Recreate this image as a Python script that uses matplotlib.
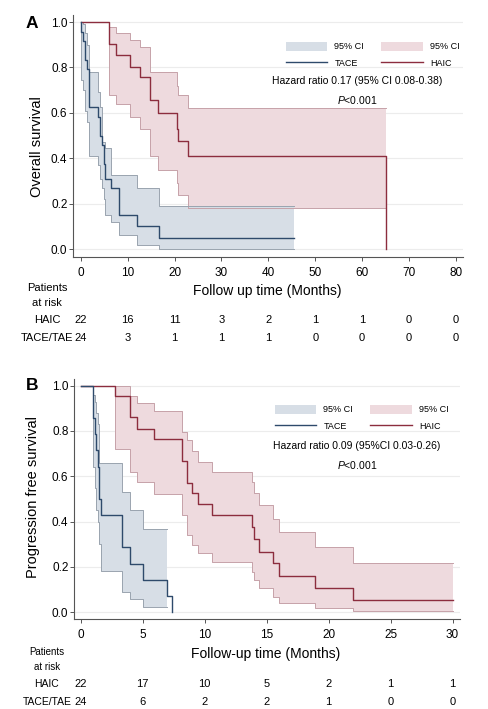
import matplotlib
matplotlib.use('Agg')
import matplotlib.pyplot as plt
import matplotlib.transforms as mtransforms
from matplotlib.patches import Patch
from matplotlib.lines import Line2D
import numpy as np

plt.rcParams['font.family'] = ['Liberation Sans', 'DejaVu Sans']
plt.rcParams['mathtext.fontset'] = 'custom'
plt.rcParams['mathtext.rm'] = 'Liberation Sans'
plt.rcParams['mathtext.it'] = 'Liberation Sans:italic'

# ---- datos ----
# A: overall survival, TACE
os_tace_t = [0, 0.1, 0.45, 1.0, 1.4, 1.75, 3.75, 4.1, 4.6, 4.95, 5.2, 6.5, 8.1, 11.9, 16.6, 45.5]
os_tace_s = [1.0, 0.958, 0.917, 0.833, 0.792, 0.625, 0.583, 0.50, 0.458, 0.375, 0.31, 0.27, 0.15, 0.10, 0.05, 0.05]
os_tace_lo = [1.0, 0.745, 0.70, 0.61, 0.56, 0.41, 0.37, 0.31, 0.27, 0.22, 0.15, 0.12, 0.062, 0.02, 0.0, 0.0]
os_tace_hi = [1.0, 1.0, 0.99, 0.95, 0.90, 0.78, 0.69, 0.627, 0.473, 0.473, 0.444, 0.326, 0.326, 0.267, 0.19, 0.19]
# A: overall survival, HAIC
os_haic_t = [0, 6.0, 7.6, 10.5, 12.6, 14.8, 16.5, 20.5, 20.8, 22.8, 65.0]
os_haic_s = [1.0, 0.902, 0.855, 0.803, 0.759, 0.656, 0.598, 0.53, 0.476, 0.411, 0.411]
os_haic_lo = [1.0, 0.68, 0.64, 0.58, 0.53, 0.41, 0.35, 0.29, 0.24, 0.18, 0.18]
os_haic_hi = [1.0, 0.976, 0.95, 0.92, 0.89, 0.78, 0.78, 0.72, 0.68, 0.62, 0.62]

# B: progression free survival, TACE (la banda termina antes que la curva)
pfs_tace_t = [0, 1.02, 1.15, 1.25, 1.38, 1.5, 1.62, 3.35, 4.0, 5.05, 7.0, 7.4]
pfs_tace_s = [1.0, 0.857, 0.786, 0.714, 0.643, 0.50, 0.429, 0.286, 0.214, 0.143, 0.071, 0.0]
pfs_tace_lo = [1.0, 0.64, 0.55, 0.45, 0.40, 0.30, 0.18, 0.09, 0.057, 0.022, 0.022]
pfs_tace_hi = [1.0, 0.96, 0.93, 0.88, 0.83, 0.66, 0.66, 0.532, 0.451, 0.367, 0.367]
# B: progression free survival, HAIC
pfs_haic_t = [0, 2.74, 3.98, 4.52, 5.91, 8.14, 8.6, 8.95, 9.49, 10.6, 13.8, 13.98, 14.4, 15.48, 16.0, 18.9, 22.0, 30.05]
pfs_haic_s = [1.0, 0.954, 0.86, 0.81, 0.763, 0.669, 0.572, 0.525, 0.476, 0.43, 0.375, 0.322, 0.267, 0.216, 0.16, 0.106, 0.054, 0.054]
pfs_haic_lo = [1.0, 0.72, 0.62, 0.574, 0.52, 0.43, 0.34, 0.297, 0.26, 0.223, 0.179, 0.143, 0.106, 0.069, 0.04, 0.018, 0.007, 0.007]
pfs_haic_hi = [1.0, 1.0, 0.954, 0.925, 0.89, 0.797, 0.76, 0.71, 0.665, 0.62, 0.576, 0.525, 0.473, 0.41, 0.356, 0.29, 0.216, 0.216]

# pacientes en riesgo
os_ticks = [0, 10, 20, 30, 40, 50, 60, 70, 80]
os_risk_haic = [22, 16, 11, 3, 2, 1, 1, 0, 0]
os_risk_tace = [24, 3, 1, 1, 1, 0, 0, 0, 0]
pfs_ticks = [0, 5, 10, 15, 20, 25, 30]
pfs_risk_haic = [22, 17, 10, 5, 2, 1, 1]
pfs_risk_tace = [24, 6, 2, 2, 1, 0, 0]

# colores
c_tace = '#2E4A6B'
f_tace = '#D7DEE6'
e_tace = '#9AA4AF'
c_haic = '#8C2D3E'
f_haic = '#EEDADE'
e_haic = '#C6A2A9'

W, H = 489, 709


def fx(px):
    return px / W


def fy(py):
    return 1 - py / H


def km(ax, t, s, lo, hi, color, fill, edge, drop=False):
    n = len(lo)
    tb = np.array(t[:n], dtype=float)
    ax.fill_between(tb, lo, hi, step='post', facecolor=fill, edgecolor='none', zorder=1)
    ax.plot(tb, lo, drawstyle='steps-post', color=edge, lw=0.7, zorder=2)
    ax.plot(tb, hi, drawstyle='steps-post', color=edge, lw=0.7, zorder=2)
    tl = np.array(t, dtype=float)
    sl = np.array(s, dtype=float)
    if drop:
        tl = np.append(tl, tl[-1])
        sl = np.append(sl, 0.0)
    ax.plot(tl, sl, drawstyle='steps-post', color=color, lw=1.0, zorder=3)


def style(ax, xticks):
    for sp in ['top', 'right']:
        ax.spines[sp].set_visible(False)
    for sp in ['left', 'bottom']:
        ax.spines[sp].set_color('#555555')
        ax.spines[sp].set_linewidth(0.8)
    ax.set_yticks(np.arange(0, 1.01, 0.2))
    ax.set_yticklabels(['%.1f' % v for v in np.arange(0, 1.01, 0.2)])
    ax.set_xticks(xticks)
    ax.tick_params(axis='y', length=3, width=0.7, color='#555555', labelsize=8.5, pad=1)
    ax.tick_params(axis='x', length=3, width=0.7, color='#555555', labelsize=8.5, pad=4)
    ax.yaxis.grid(True, color='#ECECEC', lw=0.8, zorder=0)
    ax.set_axisbelow(True)


def legend(ax, px, py):
    handles = [Patch(facecolor=f_tace, edgecolor='none'), Line2D([], [], color=c_tace, lw=1.0),
               Patch(facecolor=f_haic, edgecolor='none'), Line2D([], [], color=c_haic, lw=1.0)]
    labels = ['95% CI', 'TACE', '95% CI', 'HAIC']
    ax.legend(handles, labels, ncol=2, fontsize=6.5, frameon=False, loc='upper left',
              bbox_to_anchor=(fx(px), fy(py)), bbox_transform=fig.transFigure, borderpad=0,
              handlelength=4.6, handleheight=1.3, handletextpad=0.8, columnspacing=1.9,
              labelspacing=0.75)


def risk(ax, ticks, haic, tace, py0, size_lab, size_pat):
    tr = mtransforms.blended_transform_factory(ax.transData, fig.transFigure)
    fig.text(fx(47), fy(py0), 'Patients', ha='center', va='center', fontsize=size_pat)
    fig.text(fx(47), fy(py0 + 15), 'at risk', ha='center', va='center', fontsize=size_pat)
    fig.text(fx(47), fy(py0 + 32), 'HAIC', ha='center', va='center', fontsize=size_lab)
    fig.text(fx(47), fy(py0 + 50), 'TACE/TAE', ha='center', va='center', fontsize=size_lab)
    for x, a, b in zip(ticks, haic, tace):
        ax.text(x, fy(py0 + 32), str(a), transform=tr, ha='center', va='center', fontsize=8)
        ax.text(x, fy(py0 + 50), str(b), transform=tr, ha='center', va='center', fontsize=8)


fig = plt.figure(figsize=(W / 100, H / 100), dpi=100)

# ---- panel A ----
axA = fig.add_axes([fx(73), fy(257), (463 - 73) / W, (257 - 15.2) / H])
km(axA, os_haic_t, os_haic_s, os_haic_lo, os_haic_hi, c_haic, f_haic, e_haic, drop=True)
km(axA, os_tace_t, os_tace_s, os_tace_lo, os_tace_hi, c_tace, f_tace, e_tace)
axA.set_xlim(-1.64, 81.5)
axA.set_ylim(-0.035, 1.03)
style(axA, os_ticks)
legend(axA, 281, 37)
fig.text(fx(357), fy(81), 'Hazard ratio 0.17 (95% CI 0.08-0.38)', ha='center', va='center', fontsize=7.5)
fig.text(fx(357), fy(100), '$P$<0.001', ha='center', va='center', fontsize=7.5)
fig.text(fx(32), fy(23), 'A', ha='center', va='center', fontsize=12.5, fontweight='bold')
fig.text(fx(37), fy(147), 'Overall survival', ha='center', va='center', rotation=90, fontsize=10.5)
fig.text(fx(267), fy(291), 'Follow up time (Months)', ha='center', va='center', fontsize=10)
risk(axA, os_ticks, os_risk_haic, os_risk_tace, 288, 8, 8)

# ---- panel B ----
axB = fig.add_axes([fx(74), fy(619), (460 - 74) / W, (619 - 378.9) / H])
km(axB, pfs_haic_t, pfs_haic_s, pfs_haic_lo, pfs_haic_hi, c_haic, f_haic, e_haic)
km(axB, pfs_tace_t, pfs_tace_s, pfs_tace_lo, pfs_tace_hi, c_tace, f_tace, e_tace)
axB.set_xlim(-0.54, 30.6)
axB.set_ylim(-0.03, 1.03)
style(axB, pfs_ticks)
legend(axB, 270, 400)
fig.text(fx(357), fy(446), 'Hazard ratio 0.09 (95%CI 0.03-0.26)', ha='center', va='center', fontsize=7.5)
fig.text(fx(357), fy(465), '$P$<0.001', ha='center', va='center', fontsize=7.5)
fig.text(fx(32), fy(385), 'B', ha='center', va='center', fontsize=12.5, fontweight='bold')
fig.text(fx(33), fy(497), 'Progression free survival', ha='center', va='center', rotation=90, fontsize=10.5)
fig.text(fx(266), fy(654), 'Follow-up time (Months)', ha='center', va='center', fontsize=10)
risk(axB, pfs_ticks, pfs_risk_haic, pfs_risk_tace, 652, 7.5, 7)

fig.savefig('out.png', dpi=100)
